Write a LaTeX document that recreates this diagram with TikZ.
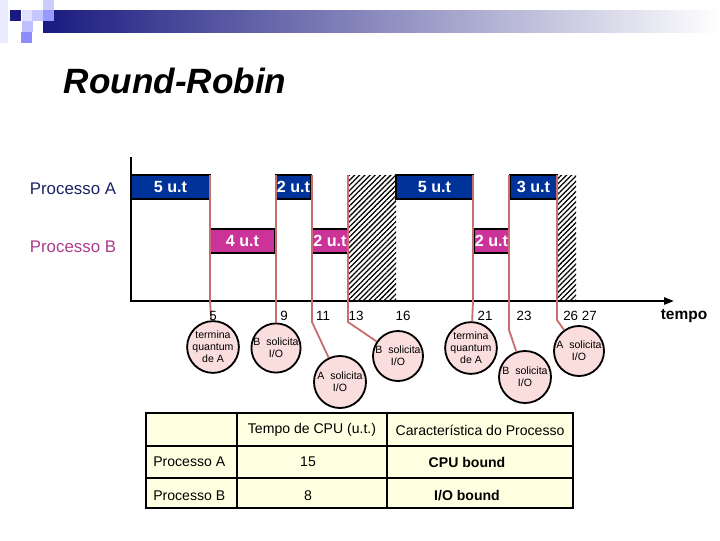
\documentclass[tikz,border=0pt]{standalone}
\usepackage{fontspec}
\setmainfont{Liberation Sans}
\usepackage{tikz}
\usetikzlibrary{arrows.meta,patterns.meta}
\definecolor{barnavy}{RGB}{26,26,128}
\definecolor{ablue}{RGB}{0,51,153}
\definecolor{bpink}{RGB}{204,51,153}
\definecolor{labA}{RGB}{25,35,100}
\definecolor{labB}{RGB}{170,60,140}
\definecolor{evred}{RGB}{200,110,110}
\definecolor{evfill}{RGB}{250,222,222}
\definecolor{tabfill}{RGB}{255,255,225}
\tikzstyle{abox}=[draw=black, line width=1.2pt, fill=ablue, text=white,
  font=\fontsize{11.5}{12}\selectfont\bfseries, minimum height=0.6cm, inner sep=0pt]
\tikzstyle{bbox}=[abox, fill=bpink]
\tikzstyle{event}=[circle, draw=black, line width=1.3pt, fill=evfill, minimum size=1.25cm,
  inner sep=0pt, align=center, font=\fontsize{7.5}{8.5}\selectfont]
\tikzstyle{evline}=[evred, line width=1.3pt]
\tikzstyle{tick}=[font=\fontsize{9.5}{11}\selectfont, inner sep=0pt]
\tikzstyle{cell}=[font=\fontsize{10}{12}\selectfont, inner sep=0pt]
\tikzstyle{hatch}=[pattern={Lines[angle=45,distance=2.6pt,line width=0.9pt]}]

\begin{document}
\begin{tikzpicture}[x=0.025cm,y=-0.025cm]
\useasboundingbox (0,0) rectangle (720,540);
% faixa do topo
\shade[left color=barnavy, middle color={rgb,255:red,155;green,155;blue,178}, right color=white]
  (43,10) rectangle (720,32);
\fill[blue!8!white] (0,0) rectangle (8,43);
\foreach \x/\y/\c in {10/10/barnavy, 22/10/blue!12!white, 32/10/blue!22!white, 43/0/blue!20!white,
                      43/10/blue!40!white, 22/21/blue!25!white, 21/32/blue!45!white}
  \fill[\c] (\x,\y) rectangle ++(11,11);
\node[font=\fontsize{25}{30}\selectfont\bfseries\itshape] (title) at (175,81) {Round-Robin};
% processos
\node[text=labA, font=\fontsize{12}{14}\selectfont] (procA) at (73,189) {Processo A};
\node[text=labB, font=\fontsize{12}{14}\selectfont] (procB) at (73,247) {Processo B};
% espera (hachurado)
\fill[hatch] (348,175) rectangle (396,301);
\fill[hatch] (557,175) rectangle (576,301);
% fatias de CPU
\foreach \a/\b/\lab [count=\i, evaluate=\a as \c using (\a+\b)/2, evaluate=\a as \w using (\b-\a)*0.025]
    in {131/210/5 u.t, 276/311/2 u.t, 396/473/5 u.t, 510/557/3 u.t}
  \node[abox, minimum width=\w cm] (a\i) at (\c,187) {\lab};
\foreach \a/\b/\lab [count=\i, evaluate=\a as \c using (\a+\b)/2, evaluate=\a as \w using (\b-\a)*0.025]
    in {210/275/4 u.t, 312/348/2 u.t, 474/509/2 u.t}
  \node[bbox, minimum width=\w cm] (b\i) at (\c,241) {\lab};
% eixos
\coordinate (ytop) at (131,157);
\coordinate (orig) at (131,301);
\coordinate (xend) at (674,301);
\draw[line width=1.4pt, -{Triangle[length=7pt,width=5pt]}] (ytop) -- (orig) -- (xend);
\node[font=\fontsize{11}{13}\selectfont\bfseries] (tempo) at (684,316) {tempo};
% eventos
\node[event] (c1) at (213,347) {termina\\quantum\\de A};
\node[event, minimum size=1.15cm] (c2) at (276,348) {B\ \ solicita\\I/O};
\node[event, minimum size=1.3cm] (c3) at (340,382) {A\ \ solicita\\I/O};
\node[event] (c4) at (398,356) {B\ \ solicita\\I/O};
\node[event] (c5) at (471,348) {termina\\quantum\\de A};
\node[event, minimum size=1.3cm] (c6) at (525,377) {B\ \ solicita\\I/O};
\node[event] (c7) at (579,351) {A\ \ solicita\\I/O};
\foreach \i/\x/\bx/\by in {1/210/210/301, 2/276/276/301, 3/312/312/322, 4/348/348/322,
                           5/473/473/301, 6/509/509/330, 7/557/557/320} {
  \coordinate (t\i) at (\x,175);
  \coordinate (k\i) at (\bx,\by);
  \draw[evline] (t\i) -- (k\i) -- (c\i);
}
% instantes
\foreach \x/\lab in {213/5, 284/9, 323/11, 356/13, 403/16, 485/21, 524/23, 580/26 27}
  \node[tick] (n\lab) at (\x,316) {\lab};
% tabela
\draw[fill=tabfill, line width=1.2pt] (146,413) rectangle (573,508);
\foreach \x in {237,387} \draw[line width=1.2pt] (\x,413) -- (\x,508);
\foreach \y in {446,478} \draw[line width=1.2pt] (146,\y) -- (573,\y);
\node[cell] (h1) at (312,430) {Tempo de CPU (u.t.)};
\node[cell] (h2) at (480,430) {Característica do Processo};
\node[cell, anchor=west] (r1) at (153,462) {Processo A};
\node[cell] (v1) at (308,462) {15};
\node[cell, font=\fontsize{10}{12}\selectfont\bfseries] (k1) at (467,462) {CPU bound};
\node[cell, anchor=west] (r2) at (153,496) {Processo B};
\node[cell] (v2) at (308,496) {8};
\node[cell, font=\fontsize{10}{12}\selectfont\bfseries] (k2) at (467,496) {I/O bound};
\end{tikzpicture}
\end{document}
